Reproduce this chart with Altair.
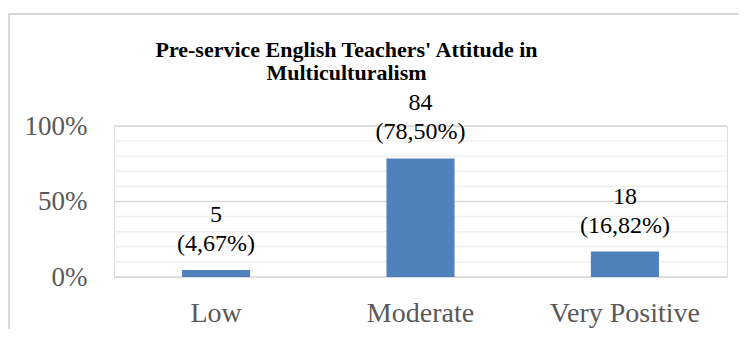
import altair as alt
import pandas as pd

categories = ["Low", "Moderate", "Very Positive"]
counts = [5, 84, 18]
percents = [4.67, 78.50, 16.82]
percent_labels = ["(4,67%)", "(78,50%)", "(16,82%)"]
grid_values = [0.0, 0.1, 0.2, 0.3, 0.4, 0.5, 0.6, 0.7, 0.8, 0.9, 1.0]
axis_values = [0.0, 0.5, 1.0]
title_lines = ["Pre-service English Teachers' Attitude in", "Multiculturalism"]

df = pd.DataFrame({
    "category": categories,
    "share": [p / 100 for p in percents],
    "label": [f"{c}\n{p}" for c, p in zip(counts, percent_labels)],
})
grid_df = pd.DataFrame({"v": grid_values, "major": [v in axis_values for v in grid_values]})

FONT = "Liberation Serif"
BAR = "#4F81BD"

y_scale = alt.Scale(domain=[0, 1], nice=False)
x = alt.X("category:N", sort=categories, title=None,
          scale=alt.Scale(paddingInner=0.667, paddingOuter=0.333),
          axis=alt.Axis(labelAngle=0, domain=False, ticks=False, tickSize=0,
                        labelPadding=44, labelBaseline="alphabetic",
                        labelFont=FONT, labelFontSize=28, labelColor="#595959"))
y = alt.Y("share:Q", title=None, scale=y_scale,
          axis=alt.Axis(values=axis_values, format=".0%", domain=False, ticks=False,
                        tickSize=0, grid=False, labelPadding=27, labelOverlap=False,
                        labelFont=FONT, labelFontSize=27, labelColor="#595959"))

frame_df = pd.DataFrame({"a": [0]})
left_border = alt.Chart(frame_df).mark_rule(color="#d9d9d9", strokeWidth=2).encode(
    x=alt.value(-105), y=alt.value(-112), y2=alt.value(230))
top_border = alt.Chart(frame_df).mark_rule(color="#d9d9d9", strokeWidth=2).encode(
    y=alt.value(-112), x=alt.value(-106), x2=alt.value(660))

grid = alt.Chart(grid_df).mark_rule(strokeWidth=1.5).encode(
    y=alt.Y("v:Q", scale=y_scale),
    x=alt.value(0), x2=alt.value("width"),
    color=alt.condition("datum.major", alt.value("#d9d9d9"), alt.value("#f0f0f0")),
)

base = alt.Chart(df)
bars = base.mark_bar(color=BAR).encode(x=x, y=y)
labels = base.mark_text(font=FONT, fontSize=24, color="#000000", baseline="bottom",
                        lineBreak="\n", lineHeight=29, dy=-43).encode(
    x=alt.X("category:N", sort=categories), y="share:Q", text="label:N")

chart = alt.layer(left_border, top_border, grid, bars, labels).properties(
    width=613, height=151,
    title=alt.TitleParams(title_lines, font=FONT, fontSize=22, fontWeight="bold",
                          color="#000000", lineHeight=23, anchor="middle",
                          baseline="bottom", dx=-74, offset=-94),
    autosize=alt.AutoSizeParams(type="none"),
    padding={"left": 106, "top": 118, "right": 12, "bottom": 52},
).configure_view(stroke=None).configure(background="white")

chart.save("out.html", embed_options={"renderer": "svg", "actions": False})
